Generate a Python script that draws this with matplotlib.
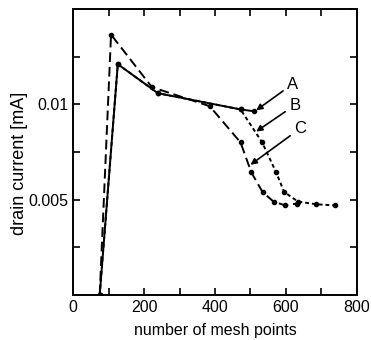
import matplotlib.pyplot as plt
from matplotlib.ticker import FixedLocator, MultipleLocator

plt.rcParams['font.family'] = ['Liberation Sans', 'DejaVu Sans']

# curve A (solid)
a_x = [75, 126, 239, 472, 511]
a_y = [0.0, 0.0121, 0.01058, 0.00973, 0.00963]
# curve B (short dashes)
b_x = [75, 126, 239, 472, 533, 572, 595, 634, 685, 738]
b_y = [0.0, 0.0121, 0.01058, 0.00973, 0.0080, 0.00645, 0.0054, 0.0049, 0.00476, 0.0047]
# curve C (long dashes)
c_x = [75, 107, 222, 385, 472, 502, 534, 565, 598, 632]
c_y = [0.0, 0.01365, 0.0109, 0.0099, 0.0080, 0.00645, 0.0054, 0.0049, 0.0047, 0.0048]

fig = plt.figure(figsize=(3.71, 3.40), dpi=100)
ax = fig.add_axes([0.197, 0.132, 0.765, 0.842])

ax.plot(a_x, a_y, color='black', lw=1.4, marker='o', ms=3)
ax.plot(b_x, b_y, color='black', lw=1.4, ls=(0, (2, 1.5)), marker='o', ms=3)
ax.plot(c_x, c_y, color='black', lw=1.4, ls=(0, (5, 2.5)), marker='o', ms=3)

# labels with arrows
for lab, tx, ty, hx, hy in [('A', 603, 0.01106, 516, 0.00968),
                            ('B', 609, 0.00995, 516, 0.00857),
                            ('C', 623, 0.00873, 500, 0.00683)]:
    ax.annotate(lab, xy=(hx, hy), xytext=(tx, ty), fontsize=12,
                ha='left', va='center',
                arrowprops=dict(arrowstyle='-|>', color='black', lw=1.2,
                                mutation_scale=9, shrinkA=1, shrinkB=0))

ax.set_xlim(0, 800)
ax.set_ylim(0, 0.015)
ax.xaxis.set_major_locator(FixedLocator([0, 200, 400, 600, 800]))
ax.xaxis.set_minor_locator(MultipleLocator(100))
ax.yaxis.set_major_locator(FixedLocator([0, 0.005, 0.01]))
ax.yaxis.set_minor_locator(MultipleLocator(0.0025))
ax.set_yticklabels(['', '0.005', '0.01'])
ax.tick_params(which='both', direction='in', top=True, right=True,
               labelsize=11.5, width=1.2)
ax.tick_params(which='major', length=5)
ax.tick_params(which='minor', length=5)
for s in ax.spines.values():
    s.set_linewidth(1.4)

ax.set_xlabel('number of mesh points', fontsize=11.5, labelpad=6)
ax.set_ylabel('drain current [mA]', fontsize=13)
ax.yaxis.set_label_coords(-0.16, 0.46)

fig.savefig('out.png', dpi=100)
